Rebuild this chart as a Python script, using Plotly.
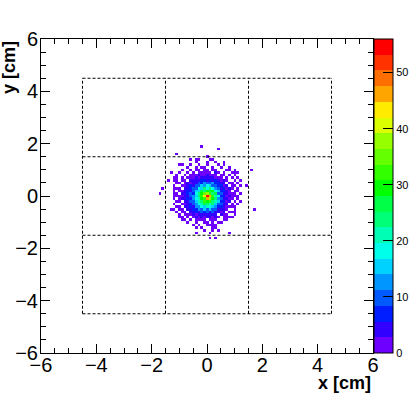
import plotly.graph_objects as go

BIN_WIDTH = 0.1
CORE_HALF = 14
GRID_HALF = 22
Z_MAX = 56
BAND_COLORS = ["#6e00ff","#3200ff","#001eff","#005aff","#0096ff","#00d2ff","#00ffeb","#00ffb4",
               "#00ff78","#00ff46","#00ff00","#32ff00","#64ff00","#96ff00","#dcff00","#ffeb00",
               "#ffa500","#ff6e00","#ff3200","#ff0000"]
CBAR_TICKS = [0, 10, 20, 30, 40, 50]
REGION_OUTER = [-4.5, 4.5]
REGION_EDGES = [-1.5, 1.5]

# counts per bin, top row first (y = +14 bins ... -14 bins), x = -14 bins ... +14 bins
counts = [
[0,0,0,0,0,0,0,0,0,0,0,1,0,0,0,0,1,0,0,0,0,0,0,0,0,0,0,0,0],
[0,0,0,0,0,0,0,0,0,0,1,0,0,0,1,0,0,1,0,0,0,0,0,0,0,0,0,0,0],
[0,0,0,0,0,0,0,0,1,0,0,1,0,0,1,0,0,0,1,0,1,0,0,0,0,0,0,0,0],
[0,0,0,0,0,0,0,1,0,0,1,0,1,1,0,0,1,0,0,1,0,0,1,0,0,0,0,0,0],
[0,0,0,0,0,1,0,0,1,0,1,2,0,1,1,0,1,2,0,0,0,1,0,0,0,0,0,0,0],
[0,0,0,0,1,0,0,1,0,2,0,1,2,1,1,2,0,3,1,0,1,0,0,1,0,1,0,0,0],
[0,0,0,1,0,0,1,0,1,1,2,3,1,2,4,1,2,1,0,1,2,0,1,0,1,0,0,0,0],
[0,0,0,1,0,1,0,1,2,1,3,2,5,4,3,4,5,2,2,2,0,2,0,1,0,1,0,0,0],
[0,0,1,0,0,2,1,0,3,3,5,4,6,8,5,7,5,6,3,1,3,1,0,0,1,0,0,0,0],
[0,0,0,1,1,0,2,3,2,5,5,9,8,12,10,11,12,6,6,3,3,0,1,2,0,1,0,0,0],
[0,0,1,0,0,2,1,3,6,5,10,9,15,13,19,15,11,11,6,6,2,3,0,1,2,0,1,0,0],
[0,0,0,2,1,0,3,3,7,10,9,17,15,24,19,23,19,13,11,4,6,1,3,1,0,1,0,0,0],
[0,0,1,0,2,1,4,6,5,11,16,14,26,24,29,26,28,17,14,7,7,3,2,0,1,1,0,0,0],
[0,0,1,2,0,3,3,6,9,8,17,24,28,34,38,32,25,26,11,10,5,5,1,2,0,0,1,0,0],
[0,0,0,1,2,1,5,4,9,13,15,25,31,42,56,45,32,22,18,8,8,2,3,1,1,1,0,0,0],
[0,0,1,0,1,3,3,7,7,13,18,21,29,33,46,37,28,24,13,11,5,5,1,2,0,1,0,0,0],
[0,0,0,1,2,0,4,5,10,9,15,22,24,31,30,33,23,20,15,8,6,2,3,0,1,0,1,0,0],
[0,0,1,0,0,2,2,5,4,10,12,18,21,26,24,21,25,14,9,9,4,3,0,2,0,1,0,0,0],
[0,0,0,1,2,0,3,4,6,5,12,13,18,16,22,17,14,13,7,7,3,1,1,2,1,0,0,0,0],
[0,0,1,0,1,2,0,3,3,7,8,12,9,15,11,14,9,9,5,3,3,2,0,0,1,0,0,0,0],
[0,0,0,1,0,1,2,0,3,3,6,4,9,7,10,5,9,4,5,1,3,0,1,1,0,0,0,0,0],
[0,0,0,0,1,0,1,1,2,3,2,5,3,5,4,5,3,4,0,3,1,2,0,0,1,0,0,0,0],
[0,0,0,0,0,1,0,2,0,2,3,1,4,2,3,4,1,3,1,0,1,0,1,1,0,0,0,0,0],
[0,0,0,0,0,1,1,0,1,0,1,2,2,1,0,2,1,1,0,0,1,1,0,0,0,0,0,0,0],
[0,0,0,0,0,0,0,1,0,0,2,0,0,2,1,0,1,0,1,1,0,0,0,0,0,0,0,0,0],
[0,0,0,0,0,0,0,0,0,1,0,1,0,0,1,1,0,1,0,0,0,0,0,0,0,0,0,0,0],
[0,0,0,0,0,0,0,0,0,0,0,0,1,0,0,0,0,1,0,0,0,0,0,0,0,0,0,0,0],
[0,0,0,0,0,0,0,0,0,0,0,0,0,1,0,0,1,0,0,0,0,0,0,0,0,0,0,0,0],
[0,0,0,0,0,0,0,0,0,0,0,0,0,0,0,1,0,0,0,0,0,0,0,0,0,0,0,0,0],
]

stray_x = [-0.16,0.40,-1.10,1.62,1.70,-1.70,-1.59,-1.45,-1.30,-0.40,0.25,0.40,0.14,0.80,-0.43,0.11,0.31,0.22,1.45,1.19,
           0.04,-0.61,-0.43,-0.29,0.07,0.20,0.65,-0.98,-0.90,1.01,1.01,0.83,1.19,1.01,-1.01,-1.16,-1.10,-1.24,-1.22,-1.16,
           -1.10,-1.28,-0.98,-0.73,0.71,1.01,0.83,1.01]
stray_y = [1.88,1.83,1.60,1.03,-0.50,0.13,0.28,0.57,0.88,-1.18,-1.11,-1.26,-1.38,-1.41,-1.45,-1.63,-1.63,-1.25,0.38,0.13,
           1.53,1.35,1.41,1.45,1.38,1.38,1.31,1.18,1.18,1.03,0.93,1.02,0.61,0.61,0.93,0.74,0.61,0.33,0.26,-0.03,
           -0.22,-0.53,-0.85,-0.79,-0.85,-0.60,-0.41,0.11]

size = 2 * GRID_HALF + 1
centers = [(k - GRID_HALF) * BIN_WIDTH for k in range(size)]
z = [[None] * size for _ in range(size)]
for r, row in enumerate(counts):
    for c, v in enumerate(row):
        if v > 0:
            z[GRID_HALF + CORE_HALF - r][GRID_HALF - CORE_HALF + c] = v
for sx, sy in zip(stray_x, stray_y):
    i, j = GRID_HALF + round(sx / BIN_WIDTH), GRID_HALF + round(sy / BIN_WIDTH)
    if z[j][i] is None:
        z[j][i] = 1

n = len(BAND_COLORS)
colorscale = []
for k, col in enumerate(BAND_COLORS):
    colorscale += [[k / n, col], [(k + 1) / n, col]]

fig = go.Figure(go.Heatmap(
    x=centers, y=centers, z=z, zmin=0, zmax=Z_MAX, colorscale=colorscale, hoverongaps=False,
    colorbar=dict(thickness=19, len=1, y=0, yanchor="bottom", x=1.0035, xanchor="left", xpad=0, ypad=0,
                  outlinewidth=1, outlinecolor="#000",
                  tickvals=CBAR_TICKS, ticks="inside", ticklen=10, tickwidth=1, tickcolor="#000",
                  ticklabeloverflow="allow",
                  tickfont=dict(family="Liberation Sans", size=11, color="#000")),
))

axis = dict(range=[-6, 6], dtick=2, tick0=-6, ticks="inside", ticklen=9, tickwidth=1, tickcolor="#000",
            showgrid=False, zeroline=False, showline=True, linecolor="#000", linewidth=1, mirror="ticks",
            automargin=False,
            minor=dict(dtick=0.5, ticks="inside", ticklen=5, tickwidth=1, tickcolor="#000", showgrid=False),
            tickfont=dict(family="Liberation Sans", size=20, color="#000"))
fig.update_layout(
    width=413, height=393, margin=dict(l=41, r=40, t=39, b=40, pad=0, autoexpand=False),
    plot_bgcolor="white", paper_bgcolor="white",
    xaxis=dict(axis, ticklabelstandoff=-6), yaxis=dict(axis, ticklabelstandoff=-2),
    annotations=[
        dict(text="<b>x [cm]</b>", xref="paper", yref="paper", x=1, y=-0.135, xanchor="right", yanchor="bottom",
             showarrow=False, font=dict(family="Liberation Sans", size=18, color="#000")),
        dict(text="<b>y [cm]</b>", xref="paper", yref="paper", x=-0.134, y=1, textangle=-90, xanchor="left", yanchor="top",
             showarrow=False, font=dict(family="Liberation Sans", size=18, color="#000")),
    ],
)
line = dict(color="#000", width=1, dash="3px,2px")
for v in REGION_OUTER + REGION_EDGES:
    fig.add_shape(type="line", x0=REGION_OUTER[0], x1=REGION_OUTER[1], y0=v, y1=v, line=line, layer="above")
    fig.add_shape(type="line", y0=REGION_OUTER[0], y1=REGION_OUTER[1], x0=v, x1=v, line=line, layer="above")

fig.write_html("out.html", post_script="document.body.style.margin='0';", config={"displayModeBar": False})
